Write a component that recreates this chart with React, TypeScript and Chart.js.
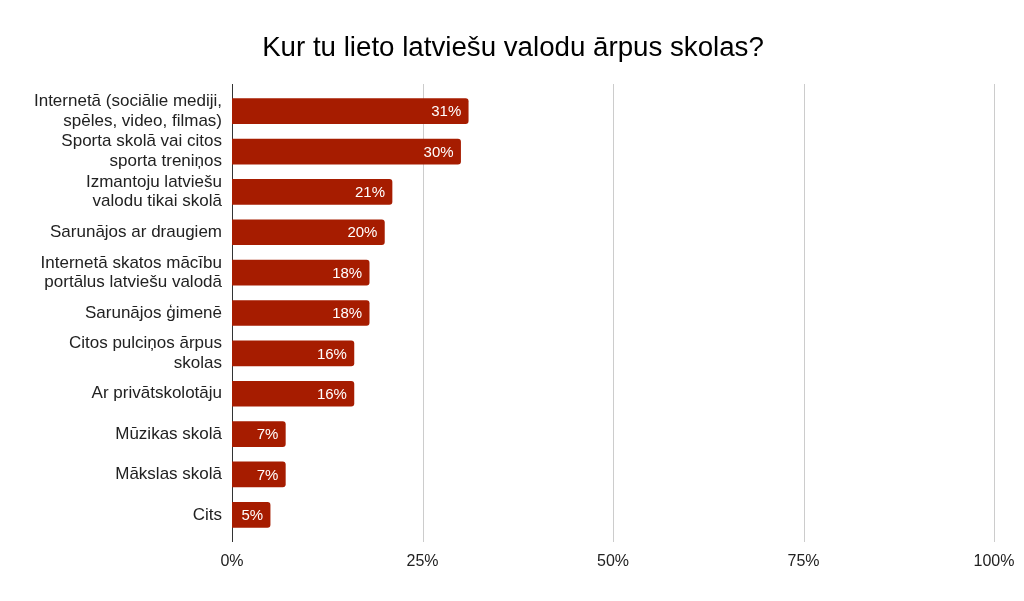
import React, { useEffect, useRef } from "react";
import { Chart, registerables, ChartConfiguration, Plugin } from "chart.js";

Chart.register(...registerables);

const chartTitle = "Kur tu lieto latviešu valodu ārpus skolas?";

const categories: string[][] = [
  ["Internetā (sociālie mediji,", "spēles, video, filmas)"],
  ["Sporta skolā vai citos", "sporta treniņos"],
  ["Izmantoju latviešu", "valodu tikai skolā"],
  ["Sarunājos ar draugiem"],
  ["Internetā skatos mācību", "portālus latviešu valodā"],
  ["Sarunājos ģimenē"],
  ["Citos pulciņos ārpus", "skolas"],
  ["Ar privātskolotāju"],
  ["Mūzikas skolā"],
  ["Mākslas skolā"],
  ["Cits"],
];

const shares = [31, 30, 21, 20, 18, 18, 16, 16, 7, 7, 5];

const xTicks = [0, 25, 50, 75, 100];

const FONT = "'Liberation Sans', Arial, sans-serif";
const BAR_COLOR = "#a61c00";

// grid + axis line, a bit taller than the chart area like the original
const gridPlugin: Plugin<"bar"> = {
  id: "gridLines",
  beforeDatasetsDraw(chart) {
    const { ctx, chartArea } = chart;
    const x = chart.scales.x;
    const overhang = 7;
    ctx.save();
    ctx.lineWidth = 1;
    xTicks.forEach((t) => {
      const px = Math.round(x.getPixelForValue(t)) + 0.5;
      ctx.strokeStyle = t === 0 ? "#333333" : "#cccccc";
      ctx.beginPath();
      ctx.moveTo(px, chartArea.top - overhang);
      ctx.lineTo(px, chartArea.bottom + overhang);
      ctx.stroke();
    });
    ctx.restore();
  },
};

const valueLabels: Plugin<"bar"> = {
  id: "valueLabels",
  afterDatasetsDraw(chart) {
    const { ctx } = chart;
    const meta = chart.getDatasetMeta(0);
    ctx.save();
    ctx.font = `15px ${FONT}`;
    ctx.fillStyle = "#ffffff";
    ctx.textAlign = "right";
    ctx.textBaseline = "middle";
    meta.data.forEach((bar, i) => {
      const { x, y } = bar.getProps(["x", "y"], true);
      ctx.fillText(`${shares[i]}%`, x - 7, y + 1);
    });
    ctx.restore();
  },
};

const titlePlugin: Plugin<"bar"> = {
  id: "centerTitle",
  afterDraw(chart) {
    const { ctx, width } = chart;
    ctx.save();
    ctx.font = `27.7px ${FONT}`;
    ctx.fillStyle = "#000000";
    ctx.textAlign = "center";
    ctx.textBaseline = "middle";
    ctx.fillText(chartTitle, width / 2 + 1, 48);
    ctx.restore();
  },
};

const App = () => {
  const canvasRef = useRef<HTMLCanvasElement | null>(null);
  const chartRef = useRef<Chart<"bar", number[], string[]> | null>(null);

  useEffect(() => {
    document.body.style.margin = "0";
    const ctx = canvasRef.current?.getContext("2d");
    if (chartRef.current) chartRef.current.destroy();
    if (!ctx) return;

    const config: ChartConfiguration<"bar", number[], string[]> = {
      type: "bar",
      data: {
        labels: categories,
        datasets: [
          {
            data: shares,
            backgroundColor: BAR_COLOR,
            borderRadius: 3,
            borderSkipped: "start",
            barThickness: 25,
          },
        ],
      },
      options: {
        indexAxis: "y",
        responsive: true,
        maintainAspectRatio: false,
        animation: false,
        layout: { padding: { top: 91, right: 30, bottom: 0, left: 0 } },
        plugins: {
          legend: { display: false },
          title: { display: false },
          tooltip: { enabled: false },
        },
        scales: {
          x: {
            min: 0,
            max: 100,
            afterBuildTicks: (scale) => {
              scale.ticks = xTicks.map((v) => ({ value: v }));
            },
            afterFit: (scale) => {
              scale.height = 66;
              scale.paddingRight = 0;
              scale.paddingLeft = 0;
            },
            grid: { display: false, drawTicks: false },
            border: { display: false },
            ticks: {
              padding: 17,
              color: "#222222",
              font: { family: FONT, size: 16 },
              callback: (v) => `${v}%`,
            },
          },
          y: {
            afterFit: (scale) => {
              scale.width = 232;
            },
            grid: { display: false, drawTicks: false },
            border: { display: false },
            ticks: {
              autoSkip: false,
              padding: 10,
              color: "#222222",
              font: { family: FONT, size: 17, lineHeight: 1.15 },
            },
          },
        },
      },
      plugins: [gridPlugin, valueLabels, titlePlugin],
    };

    chartRef.current = new Chart(ctx, config);

    return () => {
      if (chartRef.current) {
        chartRef.current.destroy();
        chartRef.current = null;
      }
    };
  }, []);

  return (
    <div style={{ position: "relative", width: 1024, height: 601, background: "#ffffff" }}>
      <canvas ref={canvasRef} />
    </div>
  );
};

export default App;
